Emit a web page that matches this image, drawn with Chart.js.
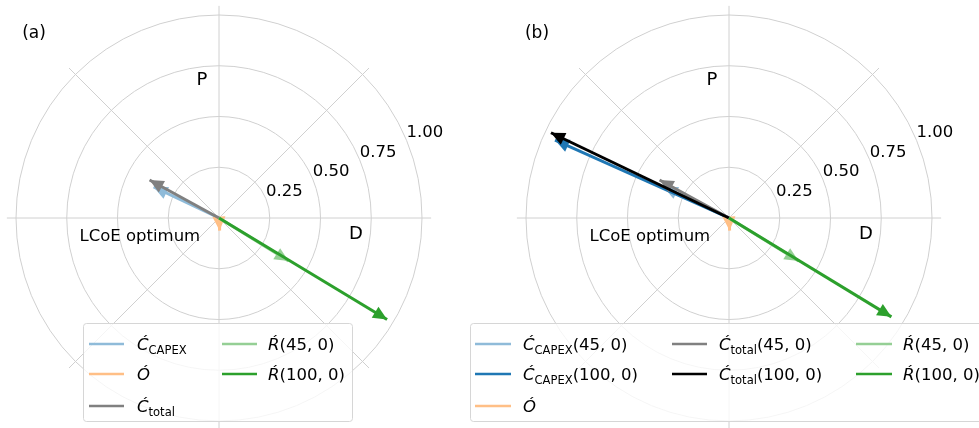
<!DOCTYPE html>
<html>
<head>
<meta charset="utf-8">
<script src="https://cdn.jsdelivr.net/npm/chart.js@4.4.1/dist/chart.umd.min.js"></script>
<style>
  html, body { margin: 0; padding: 0; background: #fff; overflow: hidden; }
  #wrap { position: relative; width: 979px; height: 428px; }
  canvas { position: absolute; top: 0; }
</style>
</head>
<body>
<div id="wrap">
  <canvas id="panelA" width="470" height="428" style="left:0px"></canvas>
  <canvas id="panelB" width="519" height="428" style="left:460px"></canvas>
</div>
<script>
// Sensitivity vectors [D, P] around the LCoE optimum
const capex45 = [-0.322, 0.153];
const capex100 = [-0.857, 0.384];
const opexVec = [0.003, -0.062];
const total45 = [-0.342, 0.187];
const total100 = [-0.877, 0.42];
const revenue45 = [0.343, -0.212];
const revenue100A = [0.828, -0.50];
const revenue100B = [0.80, -0.487];

// Polar grid
const radialTicks = [0.25, 0.5, 0.75, 1.0];
const radialTickLabels = ['0.25', '0.50', '0.75', '1.00'];
const spokeAngles = [0, 45, 90, 135, 180, 225, 270, 315];
const rMax = 1.045;
const rLabelAngle = 22.5;

// Annotation anchors [D, P]
const labelP = [-0.084, 0.68];
const labelD = [0.675, -0.079];
const labelOptimum = [-0.39, -0.094];

// Legend label pieces (italic symbol + upright subscript + upright arguments)
const txtCapex = [{ t: 'Ć', it: true }, { t: 'CAPEX', sub: true }];
const txtCapex45 = [{ t: 'Ć', it: true }, { t: 'CAPEX', sub: true }, { t: '(45, 0)' }];
const txtCapex100 = [{ t: 'Ć', it: true }, { t: 'CAPEX', sub: true }, { t: '(100, 0)' }];
const txtOpex = [{ t: 'Ó', it: true }];
const txtTotal = [{ t: 'Ć', it: true }, { t: 'total', sub: true }];
const txtTotal45 = [{ t: 'Ć', it: true }, { t: 'total', sub: true }, { t: '(45, 0)' }];
const txtTotal100 = [{ t: 'Ć', it: true }, { t: 'total', sub: true }, { t: '(100, 0)' }];
const txtRev45 = [{ t: 'Ŕ', it: true }, { t: '(45, 0)' }];
const txtRev100 = [{ t: 'Ŕ', it: true }, { t: '(100, 0)' }];

const COL = {
  capex45: '#8fbbd9', capex100: '#1f77b4', opex: '#ffbf86',
  total45: '#808080', total100: '#000000', rev45: '#95cf95', rev100: '#2ca02c'
};
const FONT = '"DejaVu Sans", "Liberation Sans", sans-serif';
const UNIT = 203; // pixels per unit radius

function drawRich(ctx, x, y, parts, size) {
  let cx = x;
  for (const p of parts) {
    const fs = p.sub ? size * 0.7 : size;
    ctx.font = (p.it ? 'italic ' : '') + fs + 'px ' + FONT;
    ctx.fillText(p.t, cx, y + (p.sub ? size * 0.24 : 0));
    cx += ctx.measureText(p.t).width;
  }
}

const polarGrid = {
  id: 'polarGrid',
  beforeDatasetsDraw(chart) {
    const { ctx, scales: { x, y } } = chart;
    const cx = x.getPixelForValue(0), cy = y.getPixelForValue(0);
    const k = x.getPixelForValue(1) - cx;
    ctx.save();
    ctx.strokeStyle = '#d0d0d0';
    ctx.lineWidth = 1;
    radialTicks.forEach(r => {
      ctx.beginPath();
      ctx.arc(cx, cy, r * k, 0, Math.PI * 2);
      ctx.stroke();
    });
    spokeAngles.forEach(a => {
      const t = a * Math.PI / 180;
      ctx.beginPath();
      ctx.moveTo(cx, cy);
      ctx.lineTo(cx + Math.cos(t) * rMax * k, cy - Math.sin(t) * rMax * k);
      ctx.stroke();
    });
    ctx.fillStyle = '#000';
    ctx.font = '16.5px ' + FONT;
    ctx.textAlign = 'left';
    ctx.textBaseline = 'alphabetic';
    const t = rLabelAngle * Math.PI / 180;
    radialTicks.forEach((r, i) => {
      ctx.fillText(radialTickLabels[i], cx + Math.cos(t) * r * k, cy - Math.sin(t) * r * k - 3);
    });
    ctx.textAlign = 'center';
    ctx.textBaseline = 'middle';
    ctx.font = '18px ' + FONT;
    ctx.fillText('P', x.getPixelForValue(labelP[0]), y.getPixelForValue(labelP[1]));
    ctx.fillText('D', x.getPixelForValue(labelD[0]), y.getPixelForValue(labelD[1]));
    ctx.font = '16.5px ' + FONT;
    ctx.fillText('LCoE optimum', x.getPixelForValue(labelOptimum[0]), y.getPixelForValue(labelOptimum[1]));
    ctx.restore();
  }
};

const arrowHeads = {
  id: 'arrowHeads',
  afterDatasetDraw(chart, args) {
    const pts = args.meta.data;
    if (pts.length < 2) return;
    const ds = chart.data.datasets[args.index];
    const p0 = pts[0], p1 = pts[1];
    let dx = p1.x - p0.x, dy = p1.y - p0.y;
    const len = Math.hypot(dx, dy) || 1;
    dx /= len; dy /= len;
    const L = 14, W = 13;
    const bx = p1.x - dx * L, by = p1.y - dy * L;
    const ctx = chart.ctx;
    ctx.save();
    ctx.fillStyle = ds.borderColor;
    ctx.beginPath();
    ctx.moveTo(p1.x, p1.y);
    ctx.lineTo(bx - dy * W / 2, by + dx * W / 2);
    ctx.lineTo(bx + dy * W / 2, by - dx * W / 2);
    ctx.closePath();
    ctx.fill();
    ctx.restore();
  }
};

const boxLegend = {
  id: 'boxLegend',
  afterDraw(chart, args, opts) {
    const ctx = chart.ctx;
    ctx.save();
    const b = opts.box;
    ctx.fillStyle = 'rgba(255,255,255,0.8)';
    ctx.strokeStyle = '#d6d6d6';
    ctx.lineWidth = 1;
    ctx.beginPath();
    if (ctx.roundRect) ctx.roundRect(b.x + 0.5, b.y + 0.5, b.w, b.h, 3);
    else ctx.rect(b.x + 0.5, b.y + 0.5, b.w, b.h);
    ctx.fill();
    ctx.stroke();
    ctx.textBaseline = 'alphabetic';
    ctx.textAlign = 'left';
    opts.columns.forEach(col => {
      col.items.forEach((it, i) => {
        const yy = opts.rows[i];
        ctx.strokeStyle = it.color;
        ctx.lineWidth = 2.5;
        ctx.beginPath();
        ctx.moveTo(col.x0, yy);
        ctx.lineTo(col.x1, yy);
        ctx.stroke();
        ctx.fillStyle = '#000';
        drawRich(ctx, col.tx, yy + 6, it.parts, 16.5);
      });
    });
    ctx.font = '17px ' + FONT;
    ctx.textAlign = 'center';
    ctx.textBaseline = 'middle';
    ctx.fillText(opts.tag.text, opts.tag.x, opts.tag.y);
    ctx.restore();
  }
};

// later vectors are drawn on top of earlier ones
function vecSet(v, color, i) {
  return {
    data: [{ x: 0, y: 0 }, { x: v[0], y: v[1] }],
    showLine: true, borderColor: color, backgroundColor: color,
    borderWidth: 3, pointRadius: 0, borderCapStyle: 'butt', clip: false,
    order: -i
  };
}

function makePanel(id, cx, cy, datasets, legendOpts) {
  const cv = document.getElementById(id);
  const W = cv.width, H = cv.height;
  return new Chart(cv, {
    type: 'scatter',
    data: { datasets },
    options: {
      responsive: false, animation: false, devicePixelRatio: 1,
      layout: { padding: 0 },
      events: [],
      scales: {
        x: { type: 'linear', display: false, min: -cx / UNIT, max: (W - cx) / UNIT },
        y: { type: 'linear', display: false, min: -(H - cy) / UNIT, max: cy / UNIT }
      },
      plugins: { legend: { display: false }, tooltip: { enabled: false }, boxLegend: legendOpts }
    },
    plugins: [polarGrid, arrowHeads, boxLegend]
  });
}

const legendRows = [344, 374, 406];

makePanel('panelA', 219, 218, [
  vecSet(capex45, COL.capex45, 0),
  vecSet(opexVec, COL.opex, 1),
  vecSet(total45, COL.total45, 2),
  vecSet(revenue45, COL.rev45, 3),
  vecSet(revenue100A, COL.rev100, 4)
], {
  tag: { text: '(a)', x: 34, y: 34 },
  box: { x: 83, y: 323, w: 269, h: 98 },
  rows: legendRows,
  columns: [
    { x0: 89, x1: 124, tx: 137, items: [
      { color: COL.capex45, parts: txtCapex },
      { color: COL.opex, parts: txtOpex },
      { color: COL.total45, parts: txtTotal }
    ] },
    { x0: 222, x1: 257, tx: 268, items: [
      { color: COL.rev45, parts: txtRev45 },
      { color: COL.rev100, parts: txtRev100 }
    ] }
  ]
});

// panel B canvas starts at x = 460
makePanel('panelB', 269, 218, [
  vecSet(capex45, COL.capex45, 0),
  vecSet(capex100, COL.capex100, 1),
  vecSet(opexVec, COL.opex, 2),
  vecSet(total45, COL.total45, 3),
  vecSet(total100, COL.total100, 4),
  vecSet(revenue45, COL.rev45, 5),
  vecSet(revenue100B, COL.rev100, 6)
], {
  tag: { text: '(b)', x: 77, y: 34 },
  box: { x: 10, y: 323, w: 530, h: 98 },
  rows: legendRows,
  columns: [
    { x0: 15, x1: 51, tx: 63, items: [
      { color: COL.capex45, parts: txtCapex45 },
      { color: COL.capex100, parts: txtCapex100 },
      { color: COL.opex, parts: txtOpex }
    ] },
    { x0: 212, x1: 247, tx: 259, items: [
      { color: COL.total45, parts: txtTotal45 },
      { color: COL.total100, parts: txtTotal100 }
    ] },
    { x0: 396, x1: 432, tx: 443, items: [
      { color: COL.rev45, parts: txtRev45 },
      { color: COL.rev100, parts: txtRev100 }
    ] }
  ]
});
</script>
</body>
</html>
